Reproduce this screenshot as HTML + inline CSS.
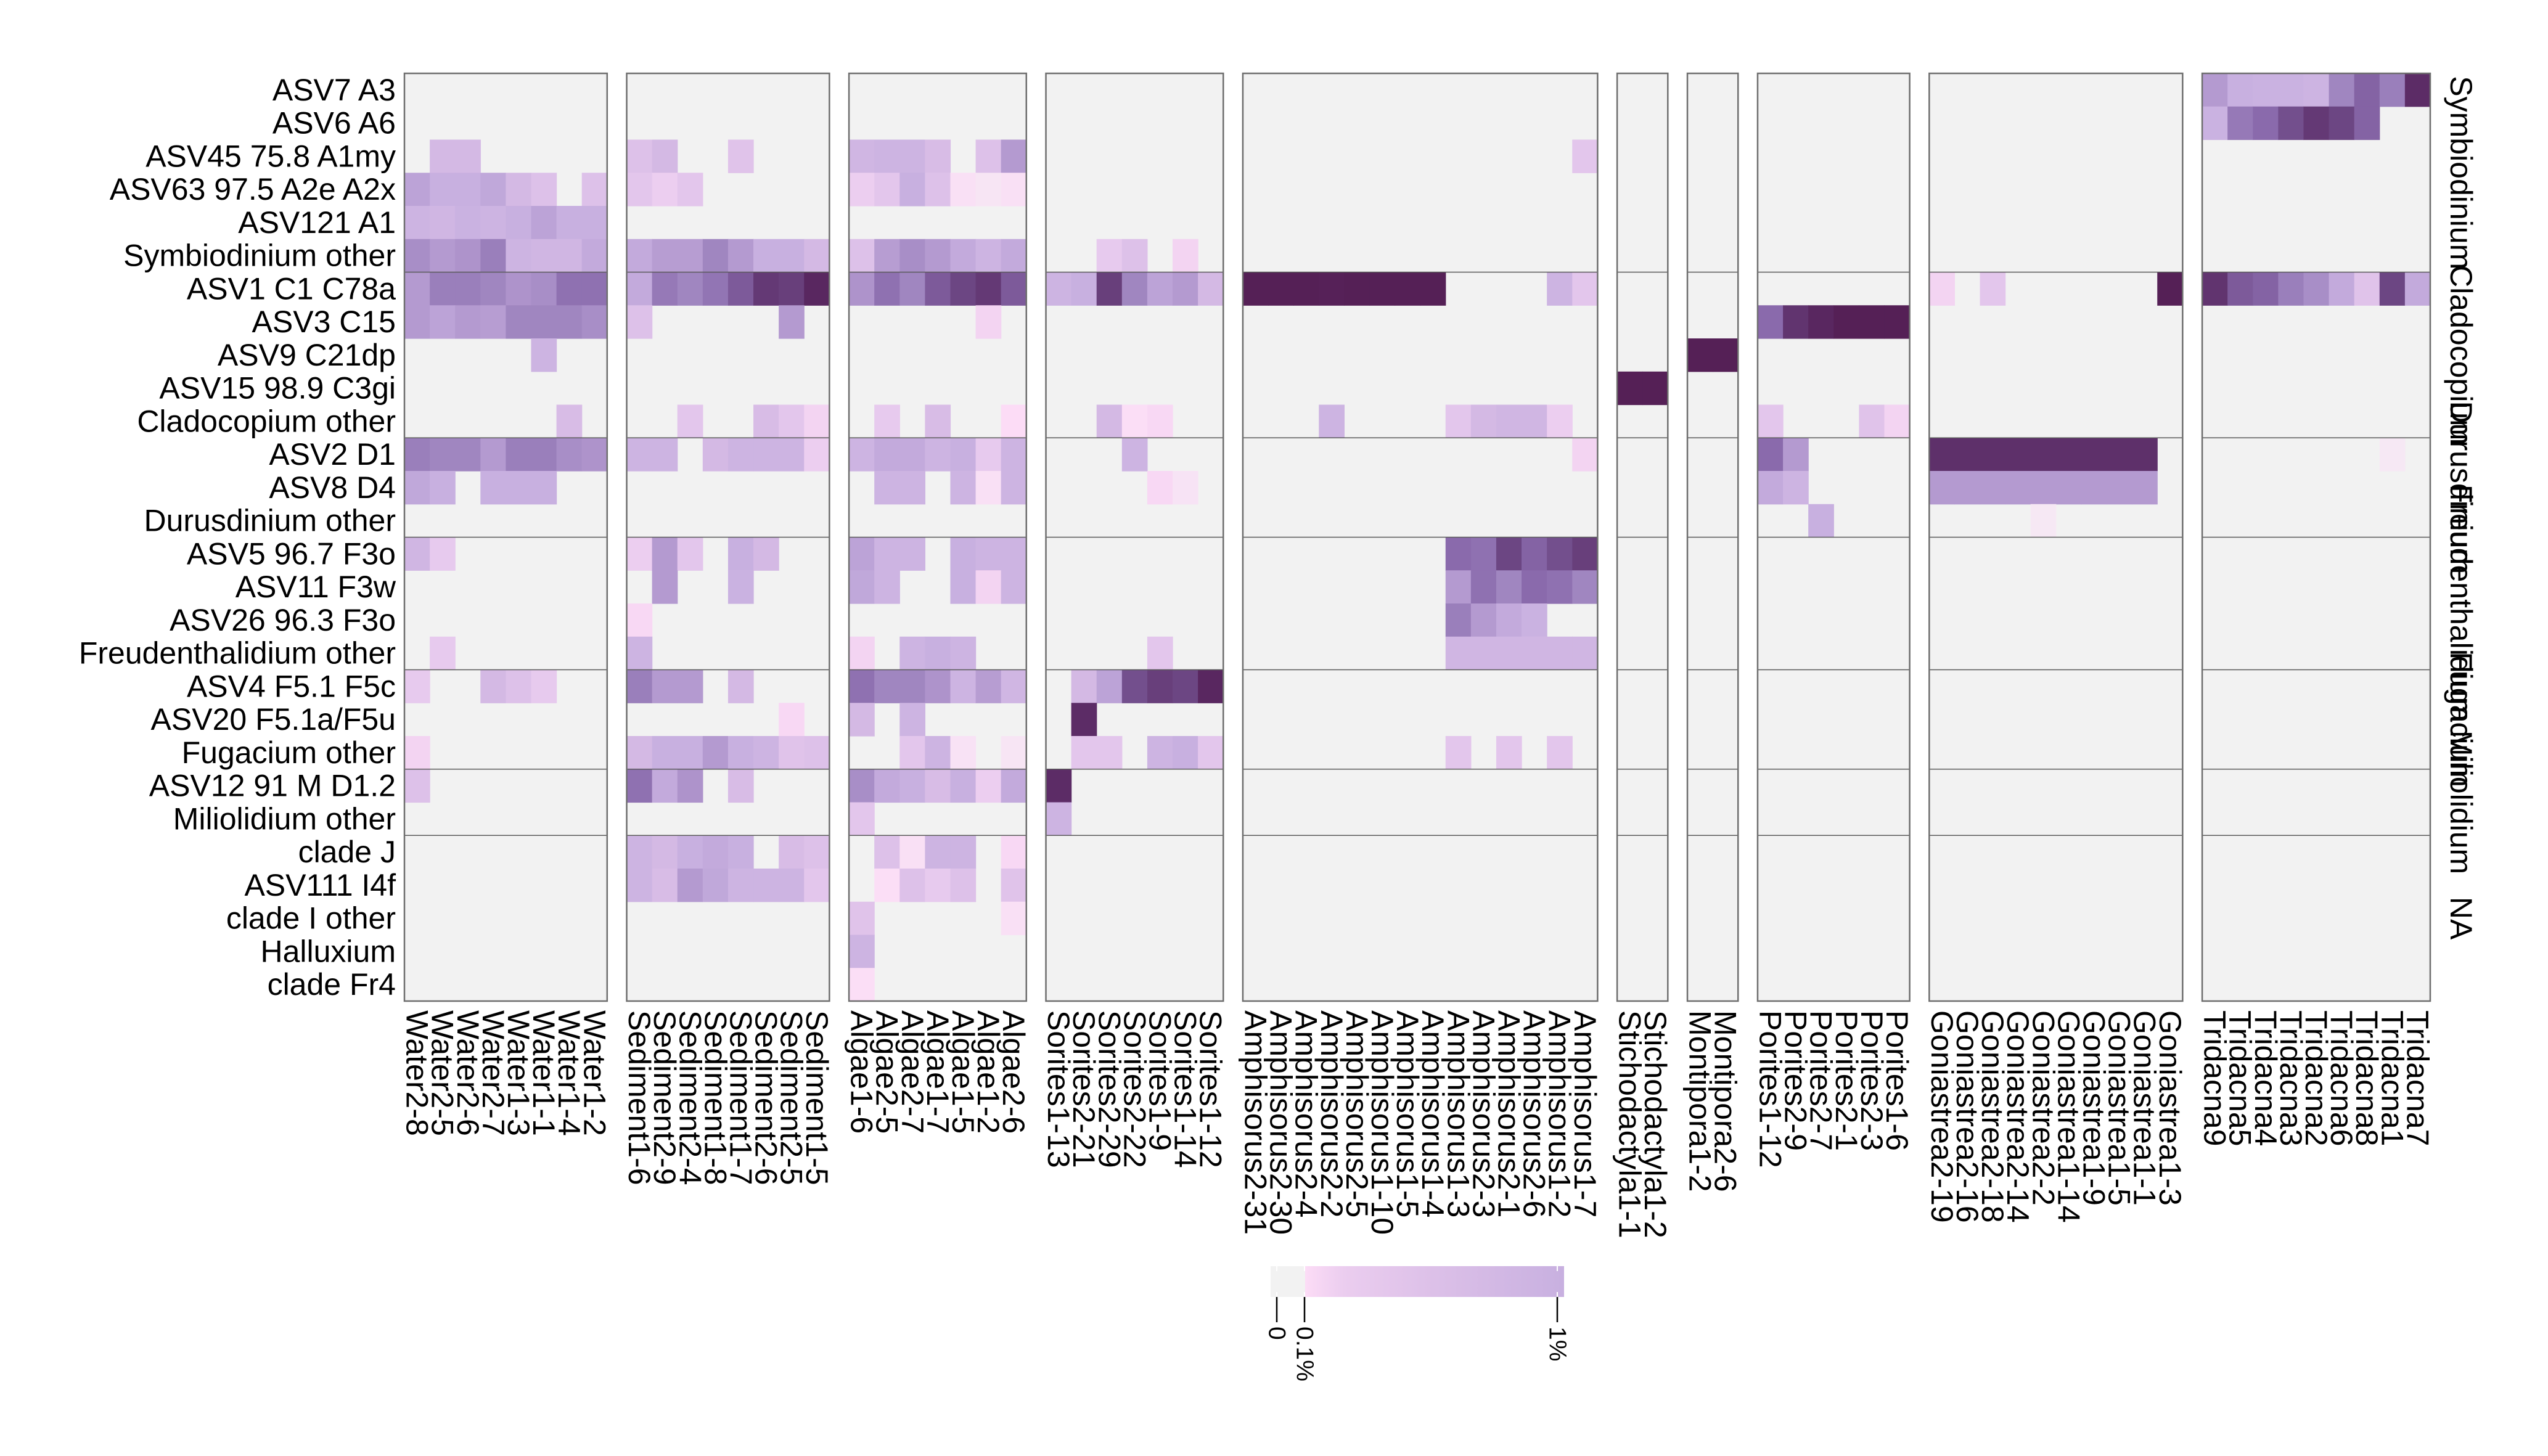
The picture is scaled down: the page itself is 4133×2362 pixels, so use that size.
<!DOCTYPE html>
<html><head><meta charset="utf-8"><title>Heatmap</title>
<style>html,body{margin:0;padding:0;background:#fff}svg{display:block}text{font-family:"Liberation Sans",Arial,sans-serif}</style>
</head><body>
<svg id="chart" xmlns="http://www.w3.org/2000/svg" width="4133" height="2362" viewBox="0 0 4133 2362">
<rect x="0" y="0" width="4133" height="2362" fill="#fff"/>
</svg>
<script>
const rowLabels = ["ASV7 A3","ASV6 A6","ASV45 75.8 A1my","ASV63 97.5 A2e A2x","ASV121 A1","Symbiodinium other","ASV1 C1 C78a","ASV3 C15","ASV9 C21dp","ASV15 98.9 C3gi","Cladocopium other","ASV2 D1","ASV8 D4","Durusdinium other","ASV5 96.7 F3o","ASV11 F3w","ASV26 96.3 F3o","Freudenthalidium other","ASV4 F5.1 F5c","ASV20 F5.1a/F5u","Fugacium other","ASV12 91 M D1.2","Miliolidium other","clade J","ASV111 I4f","clade I other","Halluxium","clade Fr4"];
const groupNames = ["Symbiodinium","Cladocopium","Durusdinium","Freudenthalidium","Fugacium","Miliolidium","NA"];
const groupSizes = [6,5,3,4,3,2,5];
const panelNames = ["Water","Sediment","Algae","Sorites","Amphisorus","Stichodactyla","Montipora","Porites","Goniastrea","Tridacna"];
const colWater = ["Water2-8","Water2-5","Water2-6","Water2-7","Water1-3","Water1-1","Water1-4","Water1-2"];
const colSediment = ["Sediment1-6","Sediment2-9","Sediment2-4","Sediment1-8","Sediment1-7","Sediment2-6","Sediment2-5","Sediment1-5"];
const colAlgae = ["Algae1-6","Algae2-5","Algae2-7","Algae1-7","Algae1-5","Algae1-2","Algae2-6"];
const colSorites = ["Sorites1-13","Sorites2-21","Sorites2-29","Sorites2-22","Sorites1-9","Sorites1-14","Sorites1-12"];
const colAmphisorus = ["Amphisorus2-31","Amphisorus2-30","Amphisorus2-4","Amphisorus2-2","Amphisorus2-5","Amphisorus1-10","Amphisorus1-5","Amphisorus1-4","Amphisorus1-3","Amphisorus2-3","Amphisorus2-1","Amphisorus2-6","Amphisorus1-2","Amphisorus1-7"];
const colStichodactyla = ["Stichodactyla1-1","Stichodactyla1-2"];
const colMontipora = ["Montipora1-2","Montipora2-6"];
const colPorites = ["Porites1-12","Porites2-9","Porites2-7","Porites2-1","Porites2-3","Porites1-6"];
const colGoniastrea = ["Goniastrea2-19","Goniastrea2-16","Goniastrea2-18","Goniastrea2-14","Goniastrea2-2","Goniastrea1-14","Goniastrea1-9","Goniastrea1-5","Goniastrea1-1","Goniastrea1-3"];
const colTridacna = ["Tridacna9","Tridacna5","Tridacna4","Tridacna3","Tridacna2","Tridacna6","Tridacna8","Tridacna1","Tridacna7"];

const valWater = [
[0,0,0,0,0,0,0,0],[0,0,0,0,0,0,0,0],[0,.6,.6,0,0,0,0,0],[1.5,1,1,1.3,.6,.4,0,.4],
[.8,.7,.9,.8,1,1.5,1,1],[3,2,2.5,5,.8,.7,.7,1.2],[2,5,5,4,2.5,3,8,8],[2,1.5,2,1.8,4,4,4,3],
[0,0,0,0,0,.8,0,0],[0,0,0,0,0,0,0,0],[0,0,0,0,0,0,.5,0],[5,4,4,2,5,5,3,2.5],
[1.3,1,0,1,1,1,0,0],[0,0,0,0,0,0,0,0],[.7,.25,0,0,0,0,0,0],[0,0,0,0,0,0,0,0],
[0,0,0,0,0,0,0,0],[0,.25,0,0,0,0,0,0],[.25,0,0,.6,.4,.25,0,0],[0,0,0,0,0,0,0,0],
[.15,0,0,0,0,0,0,0],[.4,0,0,0,0,0,0,0],[0,0,0,0,0,0,0,0],[0,0,0,0,0,0,0,0],
[0,0,0,0,0,0,0,0],[0,0,0,0,0,0,0,0],[0,0,0,0,0,0,0,0],[0,0,0,0,0,0,0,0]];
const valSediment = [
[0,0,0,0,0,0,0,0],[0,0,0,0,0,0,0,0],[.4,.6,0,0,.35,0,0,0],[.3,.2,.3,0,0,0,0,0],
[0,0,0,0,0,0,0,0],[1.2,1.8,1.8,4,2,1,1,.6],[1.2,6,4,7,15,35,30,60],[.4,0,0,0,0,0,2,0],
[0,0,0,0,0,0,0,0],[0,0,0,0,0,0,0,0],[0,0,.3,0,0,.5,.3,.15],[.8,.8,0,.6,.8,.8,.8,.2],
[0,0,0,0,0,0,0,0],[0,0,0,0,0,0,0,0],[.2,2,.3,0,1,.6,0,0],[0,2,0,0,.9,0,0,0],
[.12,0,0,0,0,0,0,0],[.8,0,0,0,0,0,0,0],[5,2,2,0,.6,0,0,0],[0,0,0,0,0,0,.12,0],
[.6,1,1,2,1,.8,.35,.4],[8,1.2,2.5,0,.5,0,0,0],[0,0,0,0,0,0,0,0],[.8,.6,1,1.2,1,0,.5,.4],
[.8,.5,2,1.3,.8,.8,.8,.3],[0,0,0,0,0,0,0,0],[0,0,0,0,0,0,0,0],[0,0,0,0,0,0,0,0]];
const valAlgae = [
[0,0,0,0,0,0,0],[0,0,0,0,0,0,0],[.7,.8,.8,.5,0,.4,2],[.2,.3,1,.4,.06,.03,.06],
[0,0,0,0,0,0,0],[.4,1.8,3,2,1.2,.8,1.2],[2.5,8,4,15,25,35,15],[0,0,0,0,0,.15,0],
[0,0,0,0,0,0,0],[0,0,0,0,0,0,0],[0,.25,0,.5,0,0,.1],[.8,1.2,1.2,.8,1,.25,.8],
[0,.8,.8,0,.8,.06,.8],[0,0,0,0,0,0,0],[1.5,.8,.8,0,1,.8,.8],[1.3,.8,0,0,1,.15,.8],
[0,0,0,0,0,0,0],[.15,0,.8,1,.8,0,0],[8,4,4,2.5,.8,1.8,.7],[.6,0,.8,0,0,0,0],
[0,0,.3,.8,.05,0,.03],[3,1.2,1,.5,1,.2,1.2],[.3,0,0,0,0,0,0],[0,.4,.06,.8,.8,0,.12],
[0,.08,.4,.25,.4,0,.35],[.35,0,0,0,0,0,.06],[.8,0,0,0,0,0,0],[.08,0,0,0,0,0,0]];
const valSorites = [
[0,0,0,0,0,0,0],[0,0,0,0,0,0,0],[0,0,0,0,0,0,0],[0,0,0,0,0,0,0],
[0,0,0,0,0,0,0],[0,0,.25,.4,0,.15,0],[.8,1,30,4,1.5,2,.6],[0,0,0,0,0,0,0],
[0,0,0,0,0,0,0],[0,0,0,0,0,0,0],[0,0,.6,.08,.12,0,0],[0,0,0,.8,0,0,0],
[0,0,0,0,.12,.04,0],[0,0,0,0,0,0,0],[0,0,0,0,0,0,0],[0,0,0,0,0,0,0],
[0,0,0,0,0,0,0],[0,0,0,0,.3,0,0],[0,.6,1.5,20,30,25,60],[0,50,0,0,0,0,0],
[0,.3,.3,0,.8,1,.3],[50,0,0,0,0,0,0],[.8,0,0,0,0,0,0],[0,0,0,0,0,0,0],
[0,0,0,0,0,0,0],[0,0,0,0,0,0,0],[0,0,0,0,0,0,0],[0,0,0,0,0,0,0]];
const valAmphisorus = [
[0,0,0,0,0,0,0,0,0,0,0,0,0,0],[0,0,0,0,0,0,0,0,0,0,0,0,0,0],[0,0,0,0,0,0,0,0,0,0,0,0,0,.3],[0,0,0,0,0,0,0,0,0,0,0,0,0,0],
[0,0,0,0,0,0,0,0,0,0,0,0,0,0],[0,0,0,0,0,0,0,0,0,0,0,0,0,0],[80,80,80,75,80,80,80,80,0,0,0,0,.8,.3],[0,0,0,0,0,0,0,0,0,0,0,0,0,0],
[0,0,0,0,0,0,0,0,0,0,0,0,0,0],[0,0,0,0,0,0,0,0,0,0,0,0,0,0],[0,0,0,.8,0,0,0,0,.3,.6,.7,.7,.2,0],[0,0,0,0,0,0,0,0,0,0,0,0,0,.15],
[0,0,0,0,0,0,0,0,0,0,0,0,0,0],[0,0,0,0,0,0,0,0,0,0,0,0,0,0],[0,0,0,0,0,0,0,0,10,8,25,12,20,30],[0,0,0,0,0,0,0,0,2,8,4,10,8,4],
[0,0,0,0,0,0,0,0,5,2,1.2,.9,0,0],[0,0,0,0,0,0,0,0,.7,.7,.7,.7,.7,.7],[0,0,0,0,0,0,0,0,0,0,0,0,0,0],[0,0,0,0,0,0,0,0,0,0,0,0,0,0],
[0,0,0,0,0,0,0,0,.3,0,.3,0,.3,0],[0,0,0,0,0,0,0,0,0,0,0,0,0,0],[0,0,0,0,0,0,0,0,0,0,0,0,0,0],[0,0,0,0,0,0,0,0,0,0,0,0,0,0],
[0,0,0,0,0,0,0,0,0,0,0,0,0,0],[0,0,0,0,0,0,0,0,0,0,0,0,0,0],[0,0,0,0,0,0,0,0,0,0,0,0,0,0],[0,0,0,0,0,0,0,0,0,0,0,0,0,0]];
const valStichodactyla = [[0,0],[0,0],[0,0],[0,0],[0,0],[0,0],[0,0],[0,0],[0,0],[80,80],[0,0],[0,0],[0,0],[0,0],[0,0],[0,0],[0,0],[0,0],[0,0],[0,0],[0,0],[0,0],[0,0],[0,0],[0,0],[0,0],[0,0],[0,0]];
const valMontipora = [[0,0],[0,0],[0,0],[0,0],[0,0],[0,0],[0,0],[0,0],[80,80],[0,0],[0,0],[0,0],[0,0],[0,0],[0,0],[0,0],[0,0],[0,0],[0,0],[0,0],[0,0],[0,0],[0,0],[0,0],[0,0],[0,0],[0,0],[0,0]];
const valPorites = [
[0,0,0,0,0,0],[0,0,0,0,0,0],[0,0,0,0,0,0],[0,0,0,0,0,0],[0,0,0,0,0,0],[0,0,0,0,0,0],[0,0,0,0,0,0],
[10,40,60,80,80,80],[0,0,0,0,0,0],[0,0,0,0,0,0],[.3,0,0,0,.35,.15],[10,2,0,0,0,0],[1.2,.8,0,0,0,0],[0,0,1,0,0,0],
[0,0,0,0,0,0],[0,0,0,0,0,0],[0,0,0,0,0,0],[0,0,0,0,0,0],[0,0,0,0,0,0],[0,0,0,0,0,0],[0,0,0,0,0,0],
[0,0,0,0,0,0],[0,0,0,0,0,0],[0,0,0,0,0,0],[0,0,0,0,0,0],[0,0,0,0,0,0],[0,0,0,0,0,0],[0,0,0,0,0,0]];
const valGoniastrea = [
[0,0,0,0,0,0,0,0,0,0],[0,0,0,0,0,0,0,0,0,0],[0,0,0,0,0,0,0,0,0,0],[0,0,0,0,0,0,0,0,0,0],
[0,0,0,0,0,0,0,0,0,0],[0,0,0,0,0,0,0,0,0,0],[.15,0,.3,0,0,0,0,0,0,80],[0,0,0,0,0,0,0,0,0,0],
[0,0,0,0,0,0,0,0,0,0],[0,0,0,0,0,0,0,0,0,0],[0,0,0,0,0,0,0,0,0,0],[45,45,45,45,45,45,45,45,45,0],
[2,2,2,2,2,2,2,2,2,0],[0,0,0,0,.02,0,0,0,0,0],[0,0,0,0,0,0,0,0,0,0],[0,0,0,0,0,0,0,0,0,0],
[0,0,0,0,0,0,0,0,0,0],[0,0,0,0,0,0,0,0,0,0],[0,0,0,0,0,0,0,0,0,0],[0,0,0,0,0,0,0,0,0,0],
[0,0,0,0,0,0,0,0,0,0],[0,0,0,0,0,0,0,0,0,0],[0,0,0,0,0,0,0,0,0,0],[0,0,0,0,0,0,0,0,0,0],
[0,0,0,0,0,0,0,0,0,0],[0,0,0,0,0,0,0,0,0,0],[0,0,0,0,0,0,0,0,0,0],[0,0,0,0,0,0,0,0,0,0]];
const valTridacna = [
[2,1,.9,.9,.8,4,12,5,50],[.9,6,10,20,35,25,12,0,0],[0,0,0,0,0,0,0,0,0],[0,0,0,0,0,0,0,0,0],
[0,0,0,0,0,0,0,0,0],[0,0,0,0,0,0,0,0,0],[40,15,12,5,3,1.2,.35,25,1.2],[0,0,0,0,0,0,0,0,0],
[0,0,0,0,0,0,0,0,0],[0,0,0,0,0,0,0,0,0],[0,0,0,0,0,0,0,0,0],[0,0,0,0,0,0,0,.02,0],
[0,0,0,0,0,0,0,0,0],[0,0,0,0,0,0,0,0,0],[0,0,0,0,0,0,0,0,0],[0,0,0,0,0,0,0,0,0],
[0,0,0,0,0,0,0,0,0],[0,0,0,0,0,0,0,0,0],[0,0,0,0,0,0,0,0,0],[0,0,0,0,0,0,0,0,0],
[0,0,0,0,0,0,0,0,0],[0,0,0,0,0,0,0,0,0],[0,0,0,0,0,0,0,0,0],[0,0,0,0,0,0,0,0,0],
[0,0,0,0,0,0,0,0,0],[0,0,0,0,0,0,0,0,0],[0,0,0,0,0,0,0,0,0],[0,0,0,0,0,0,0,0,0]];
const colorbarTicks = [0, 0.1, 1];
const colorbarTickLabels = ["0","0.1%","1%"];

const panelCols = [colWater,colSediment,colAlgae,colSorites,colAmphisorus,colStichodactyla,colMontipora,colPorites,colGoniastrea,colTridacna];
const panelVals = [valWater,valSediment,valAlgae,valSorites,valAmphisorus,valStichodactyla,valMontipora,valPorites,valGoniastrea,valTridacna];

const NS = "http://www.w3.org/2000/svg";
const svg = document.getElementById("chart");
function mk(tag, attrs, parent){const e=document.createElementNS(NS,tag);for(const k in attrs)e.setAttribute(k,attrs[k]);(parent||svg).appendChild(e);return e;}

// geometry
const X0 = 656, TOP = 119, ROWH = 53.75, COLW = 41.1, GAP = 31.74;
const yScale = r => TOP + r*ROWH;
const panelX = [];
(function(){let x=X0;for(let p=0;p<panelCols.length;p++){panelX.push(x);x+=panelCols[p].length*COLW+GAP;}})();
const xScale = (p,c) => panelX[p] + c*COLW;

// color scale (log)
const stops = [[0.01,"#f4ecf3"],[0.05,"#f8e2f5"],[0.1,"#fcdcf6"],[0.3,"#e3c6ec"],[0.6,"#d4b9e4"],[1,"#c8b0e0"],[2,"#b49ad0"],[5,"#9a7fbb"],[10,"#8a6aac"],[25,"#6c4683"],[50,"#5c2c66"],[100,"#521a4e"]];
function hex(h){return [parseInt(h.substr(1,2),16),parseInt(h.substr(3,2),16),parseInt(h.substr(5,2),16)];}
function color(v){
  if(!v||v<=0) return "#f2f2f2";
  const lv=Math.log10(v);
  if(v<=stops[0][0]) return stops[0][1];
  for(let i=1;i<stops.length;i++){
    if(v<=stops[i][0]){
      const a=Math.log10(stops[i-1][0]), b=Math.log10(stops[i][0]), t=(lv-a)/(b-a);
      const c1=hex(stops[i-1][1]), c2=hex(stops[i][1]);
      return "rgb("+c1.map((c,k)=>Math.round(c+(c2[k]-c)*t)).join(",")+")";
    }
  }
  return stops[stops.length-1][1];
}

const nRows = rowLabels.length;
const H = nRows*ROWH;

// panels
for(let p=0;p<panelCols.length;p++){
  const g = mk("g",{});
  
  
  const w = panelCols[p].length*COLW;
  const bg = mk("rect",{x:panelX[p],y:TOP,width:w,height:H,fill:"#f2f2f2"},g);
  
  
  const vals = panelVals[p];
  for(let r=0;r<nRows;r++){
    for(let c=0;c<panelCols[p].length;c++){
      const v = vals[r][c];
      if(!v) continue;
      const cell = mk("rect",{x:xScale(p,c),y:yScale(r),width:COLW+0.6,height:ROWH+0.6,fill:color(v)},g);
      
      
    }
  }
  // group separators
  let acc=0;
  for(let k=0;k<groupSizes.length-1;k++){
    acc+=groupSizes[k];
    const ln = mk("line",{x1:panelX[p],x2:panelX[p]+w,y1:yScale(acc),y2:yScale(acc),stroke:"#5a5a5a","stroke-width":1.6},g);
    
    
  }
  const border = mk("rect",{x:panelX[p],y:TOP,width:w,height:H,fill:"none",stroke:"#6e6e6e","stroke-width":2.5},g);
  
  
  // column labels
  for(let c=0;c<panelCols[p].length;c++){
    const cx = xScale(p,c)+COLW/2;
    const t = mk("text",{transform:"translate("+cx+",1639) rotate(90)","font-size":50,"dominant-baseline":"central","text-anchor":"start",fill:"#000"});
    t.textContent = panelCols[p][c];
    
    
  }
}

// row labels
for(let r=0;r<nRows;r++){
  const t = mk("text",{x:642,y:yScale(r)+ROWH/2,"font-size":50,"text-anchor":"end","dominant-baseline":"central",fill:"#000"});
  t.textContent = rowLabels[r];
  
  
}

// strip labels
(function(){let acc=0;for(let k=0;k<groupNames.length;k++){
  const cy = yScale(acc+groupSizes[k]/2);
  acc+=groupSizes[k];
  const t = mk("text",{transform:"translate(3992,"+cy+") rotate(90)","font-size":50,"text-anchor":"middle","dominant-baseline":"central",fill:"#000"});
  t.textContent = groupNames[k];
  
  
}})();

// colorbar
(function(){
  const cb = mk("g",{});
  
  
  const defs = mk("defs",{},cb);
  const lg = mk("linearGradient",{id:"cbgrad",x1:"0",x2:"1",y1:"0",y2:"0"},defs);
  mk("stop",{offset:"0","stop-color":"#fcdcf6"},lg);
  mk("stop",{offset:"0.15","stop-color":"#ebcdef"},lg);
  mk("stop",{offset:"0.5","stop-color":"#dcc0e8"},lg);
  mk("stop",{offset:"1","stop-color":"#c8b0e0"},lg);
  const tickX = [2071, 2116, 2526];
  const gray = mk("rect",{x:2061,y:2054,width:56,height:50,fill:"#f2f2f2"},cb);
  
  
  const grad = mk("rect",{x:2117,y:2054,width:420,height:50,fill:"url(#cbgrad)"},cb);
  
  
  for(let i=0;i<colorbarTicks.length;i++){
    const x=tickX[i];
    mk("line",{x1:x,x2:x,y1:2054,y2:2062,stroke:"#fff","stroke-width":2},cb);
    mk("line",{x1:x,x2:x,y1:2096,y2:2104,stroke:"#fff","stroke-width":2},cb);
    const tk = mk("line",{x1:x,x2:x,y1:2104,y2:2145,stroke:"#000","stroke-width":2.5},cb);
    
    
    const t = mk("text",{transform:"translate("+x+",2152) rotate(90)","font-size":39,"text-anchor":"start","dominant-baseline":"central",fill:"#000"},cb);
    t.textContent = colorbarTickLabels[i];
    
    
  }
})();
</script>
</body></html>
